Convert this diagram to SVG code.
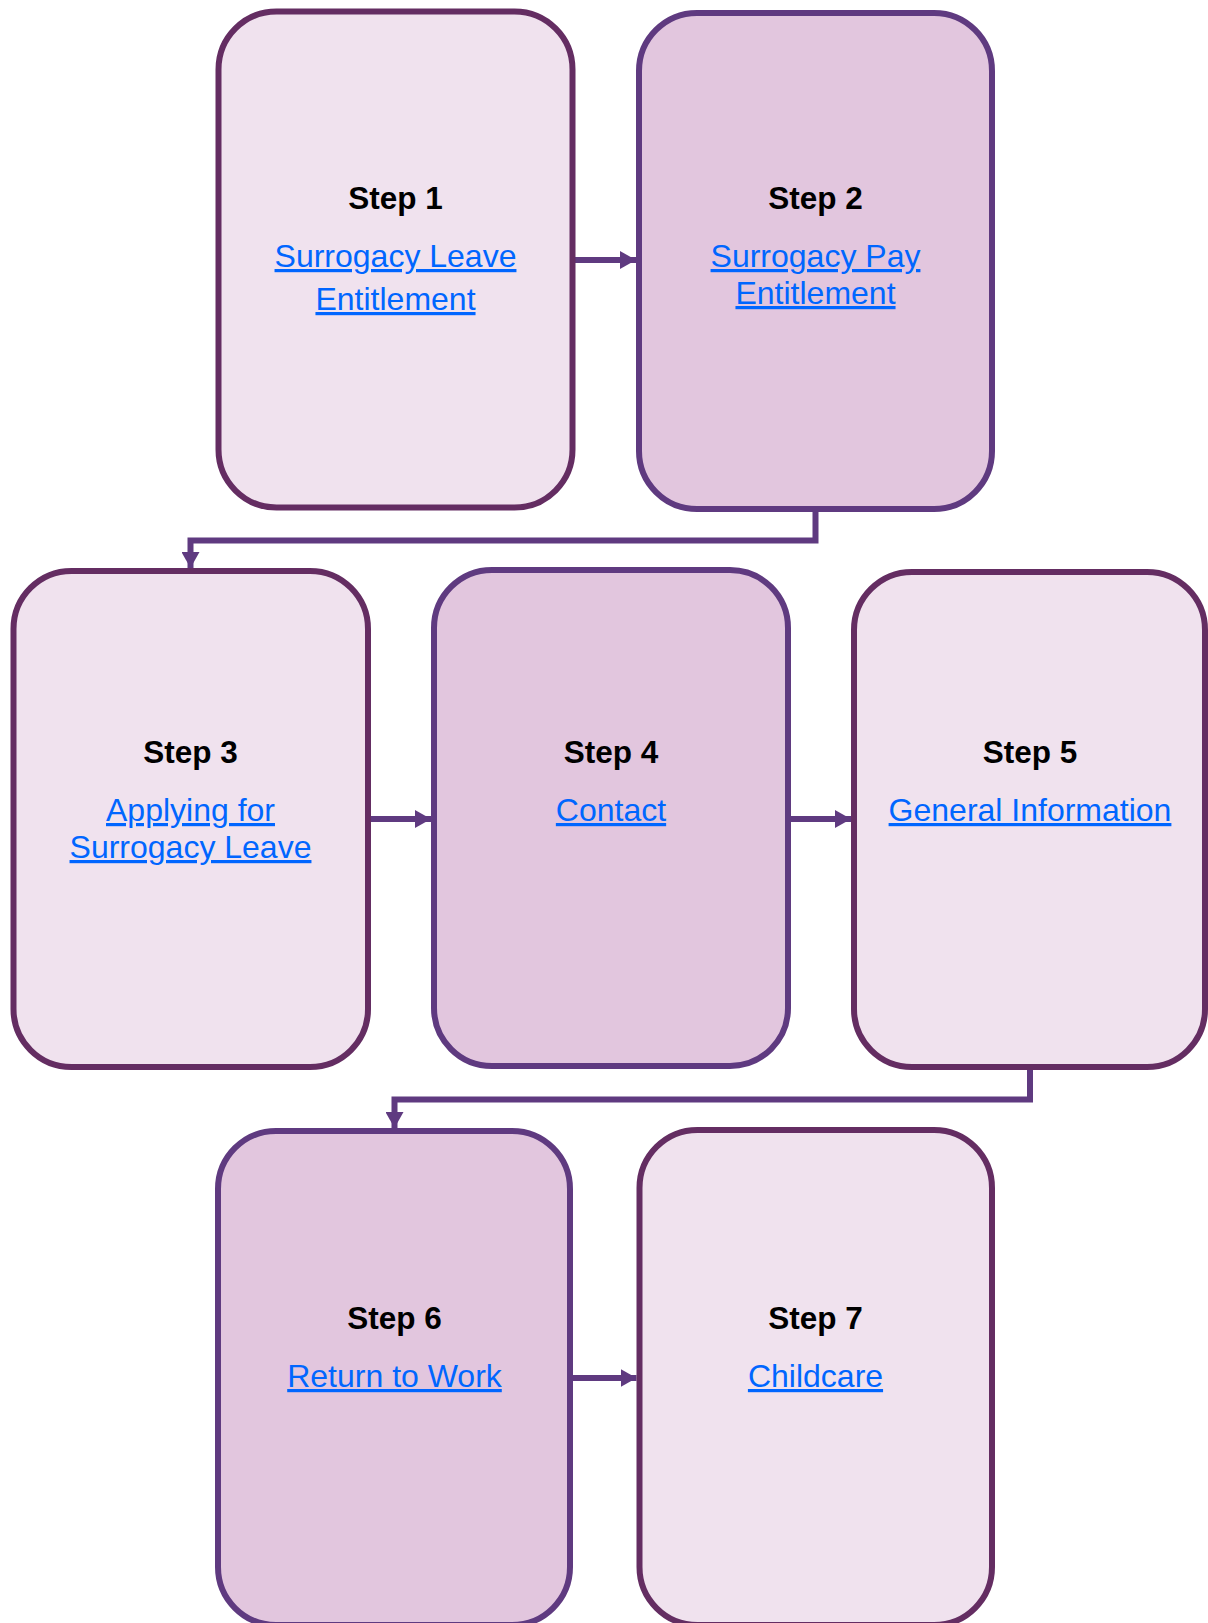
<svg xmlns="http://www.w3.org/2000/svg" width="1208" height="1623" viewBox="0 0 1208 1623">
<style>
.light{fill:#f0e2ee;stroke:#642d62;stroke-width:6}
.dark{fill:#e2c6de;stroke:#5f3a80;stroke-width:6}
.step{font-family:"Liberation Sans",Arial,sans-serif;font-weight:bold;font-size:31.5px;fill:#000;text-anchor:middle}
.link{font-family:"Liberation Sans",Arial,sans-serif;font-size:32px;fill:#0066ff;text-anchor:middle;text-decoration:underline}
.conn{fill:none;stroke:#5f3a80;stroke-width:6;marker-end:url(#arr)}
</style>
<defs>
<marker id="arr" markerUnits="userSpaceOnUse" markerWidth="18" markerHeight="18" refX="16" refY="9" orient="auto">
<path d="M0,0 L16,9 L0,18 z" fill="#5f3a80"/>
</marker>
</defs>
<rect width="1208" height="1623" fill="#fff"/>
<g id="connectors">
<path class="conn" d="M572.5,260 H636"/>
<path class="conn" d="M815.5,509 V540.5 H190.5 V568"/>
<path class="conn" d="M367.5,819 H431"/>
<path class="conn" d="M788,819 H851"/>
<path class="conn" d="M1030,1067 V1099.5 H394.5 V1128"/>
<path class="conn" d="M570,1378 H636.5"/>
</g>
<g id="step1">
<rect class="light" x="218.5" y="11.5" width="354" height="496" rx="58"/>
<text class="step" x="395.5" y="209">Step 1</text>
<text class="link" x="395.5" y="267">Surrogacy Leave</text>
<text class="link" x="395.5" y="310">Entitlement</text>
</g>
<g id="step2">
<rect class="dark" x="639" y="13" width="353" height="496" rx="58"/>
<text class="step" x="815.5" y="209">Step 2</text>
<text class="link" x="815.5" y="267">Surrogacy Pay</text>
<text class="link" x="815.5" y="304">Entitlement</text>
</g>
<g id="step3">
<rect class="light" x="13.5" y="571" width="354.5" height="496" rx="58"/>
<text class="step" x="190.5" y="763">Step 3</text>
<text class="link" x="190.5" y="821">Applying for</text>
<text class="link" x="190.5" y="858">Surrogacy Leave</text>
</g>
<g id="step4">
<rect class="dark" x="434" y="570" width="354" height="496" rx="58"/>
<text class="step" x="611" y="763">Step 4</text>
<text class="link" x="611" y="821">Contact</text>
</g>
<g id="step5">
<rect class="light" x="854" y="572" width="351" height="495" rx="58"/>
<text class="step" x="1030" y="763">Step 5</text>
<text class="link" x="1030" y="821">General Information</text>
</g>
<g id="step6">
<rect class="dark" x="218" y="1131" width="352" height="494" rx="58"/>
<text class="step" x="394.5" y="1329">Step 6</text>
<text class="link" x="394.5" y="1387">Return to Work</text>
</g>
<g id="step7">
<rect class="light" x="639.5" y="1130" width="352.5" height="495" rx="58"/>
<text class="step" x="815.5" y="1329">Step 7</text>
<text class="link" x="815.5" y="1387">Childcare</text>
</g>
</svg>
